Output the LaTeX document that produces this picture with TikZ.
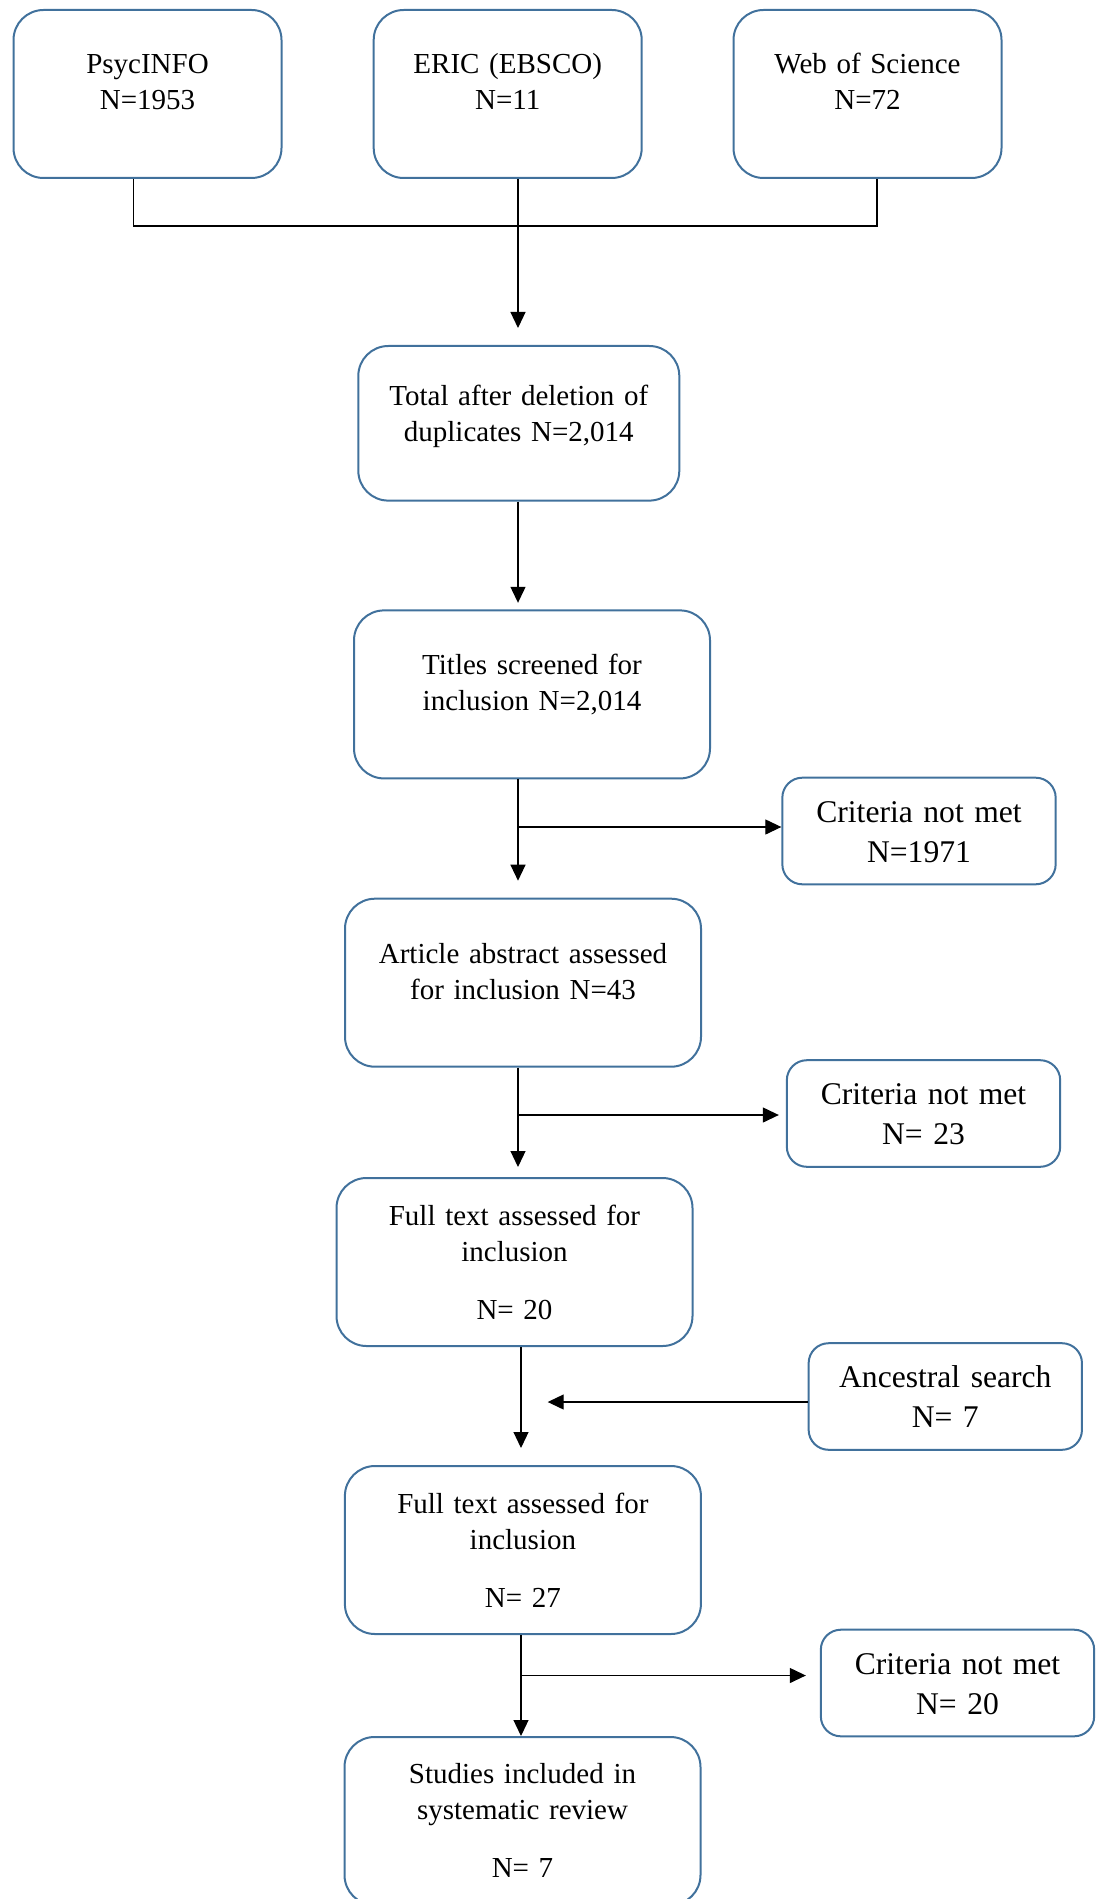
\documentclass[tikz,border=0pt]{standalone}
\usepackage{fontspec}
\setmainfont{Liberation Serif}
\usepackage{xcolor}
\definecolor{cBox}{HTML}{41719C}
\usepackage{tikz}
\usetikzlibrary{positioning,arrows.meta,calc}
\tikzset{
  node-box/.style={draw=cBox,line width=1pt,rounded corners=15pt,
    minimum width=178pt,minimum height=84pt,text width=165pt,align=center,
    font=\fontsize{14.5}{18}\selectfont,text height=0pt,text depth=19.5pt},
  node-src/.style={node-box,minimum width=134pt,text width=125pt,text depth=20pt},
  node-long/.style={node-box,text depth=37pt},
  node-crit/.style={node-box,rounded corners=10pt,minimum width=136pt,
    minimum height=53.3pt,text width=130pt,
    font=\fontsize{15.8}{20}\selectfont,text depth=9pt},
  link/.style={draw=black,line width=0.6pt},
  arrow/.style={link,-{Triangle[length=8pt,width=7.5pt]}},
}

\begin{document}
\begin{tikzpicture}[x=0.5pt,y=-0.5pt]
  \useasboundingbox (0,0) rectangle (1097,1899);
  % databases
  \node[node-src] (psyc) at (147.5,94) {PsycINFO\\N=1953};
  \node[node-src] (eric) at (507.7,94) {ERIC (EBSCO)\\N=11};
  \node[node-src] (wos) at (867.5,94) {Web of Science\\N=72};
  % main flow
  \node[node-box,minimum width=160.5pt,minimum height=77.3pt,text width=150pt,
    text depth=18.3pt] (total) at (518.8,423.3) {Total after deletion of\\duplicates N=2,014};
  \node[node-box] (titles) at (532,694.4) {Titles screened for\\inclusion N=2,014};
  \node[node-box] (article) at (523,982.7) {Article abstract assessed\\for inclusion N=43};
  \node[node-long] (full1) at (514.5,1262) {Full text assessed for\\inclusion\\[11pt]N= 20};
  \node[node-long] (full2) at (522.9,1550) {Full text assessed for\\inclusion\\[11pt]N= 27};
  \node[node-long,text depth=38pt] (studies) at (522.5,1821) {Studies included in\\systematic review\\[11pt]N= 7};
  % side boxes
  \node[node-crit] (crit1) at (919,831) {Criteria not met\\N=1971};
  \node[node-crit] (crit2) at (923.5,1113.5) {Criteria not met\\N= 23};
  \node[node-crit] (anc) at (945.3,1396.5) {Ancestral search\\N= 7};
  \node[node-crit] (crit3) at (957.5,1683) {Criteria not met\\N= 20};

  \coordinate (spine) at (518,0);
  \coordinate (spine2) at (521,0);
  \coordinate (join) at (518,226);
  \coordinate (anc-in) at (547.7,1402);

  \draw[link] ($(psyc.south)+(-14,0)$) |- (join) -| ($(wos.south)+(9.5,0)$);
  \draw[arrow,shorten >=8.5pt] (eric.south -| spine) -- (total.north -| spine);
  \draw[arrow,shorten >=3.3pt] (total.south -| spine) -- (titles.north -| spine);
  \draw[arrow,shorten >=8.5pt] (titles.south -| spine) -- (article.north -| spine);
  \draw[arrow] ($(spine |- crit1.west)+(0,-4)$) -- ($(crit1.west)+(0,-4)$);
  \draw[arrow,shorten >=5pt] (article.south -| spine) -- (full1.north -| spine);
  \draw[arrow,shorten >=3.5pt] ($(spine |- crit2.west)+(0,1.5)$) -- ($(crit2.west)+(0,1.5)$);
  \draw[arrow,shorten >=8.5pt] (full1.south -| spine2) -- (full2.north -| spine2);
  \draw[arrow] (anc.west |- anc-in) -- (anc-in);
  \draw[arrow] (full2.south -| spine2) -- (studies.north -| spine2);
  \draw[arrow,shorten >=7pt] ($(spine2 |- crit3.west)+(0,-7.5)$) -- ($(crit3.west)+(0,-7.5)$);
\end{tikzpicture}
\end{document}
